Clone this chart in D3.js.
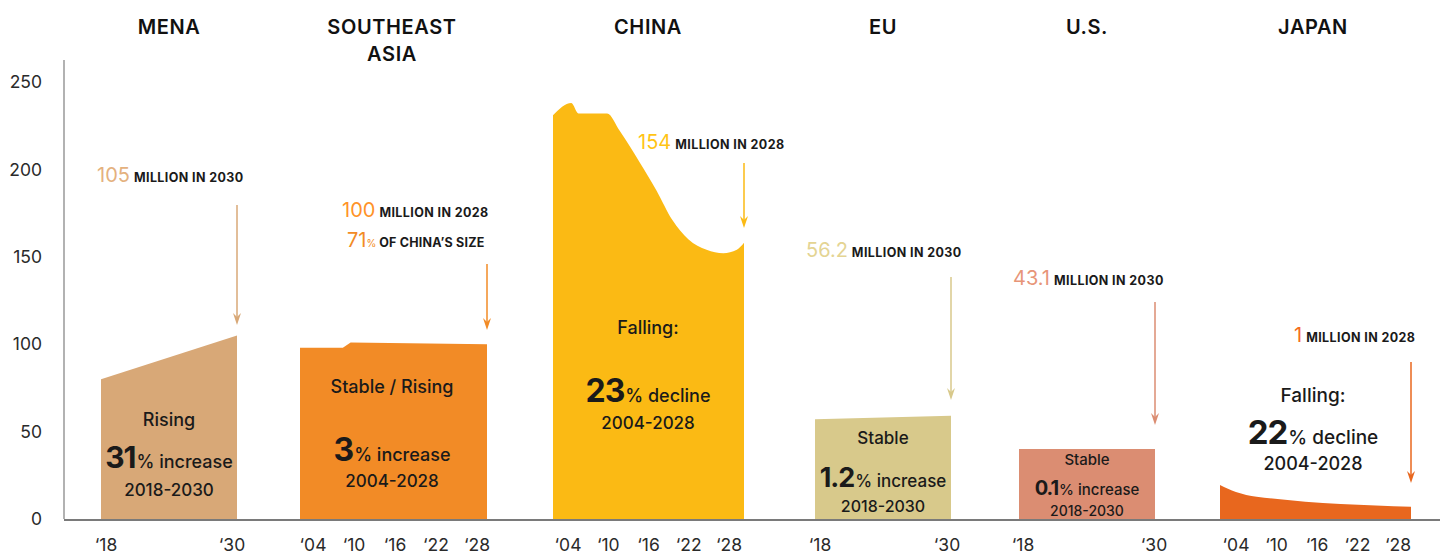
<!DOCTYPE html>
<html>
<head>
<meta charset="utf-8">
<script src="https://cdn.jsdelivr.net/npm/d3@7"></script>
<style>
  body { margin: 0; background: #fff; }
  text { font-family: Inter, "Open Sans", sans-serif; }
</style>
</head>
<body>
<div id="chart"></div>
<script>
// data (millions)
const regions = ['MENA', 'SOUTHEAST ASIA', 'CHINA', 'EU', 'U.S.', 'JAPAN'];

const menaYears = [2018, 2030];
const menaValues = [80, 105];
const seAsiaYears = [2004, 2009.5, 2010.5, 2028];
const seAsiaValues = [98, 98, 101, 100];
const chinaYears = [2004, 2006.3, 2007.2, 2010.8, 2012.4, 2014.9, 2017, 2019, 2021, 2023.3, 2025.4, 2027.1, 2028];
const chinaValues = [231, 238, 232, 232, 222, 204, 188, 171, 160, 154, 152, 154, 158];
const euYears = [2018, 2030];
const euValues = [57, 59];
const usYears = [2018, 2030];
const usValues = [40, 40];
const japanYears = [2004, 2006, 2008.6, 2028];
const japanValues = [19.5, 15.5, 12.8, 7];

const shortTicks = ['\u201818', '\u201830'];
const longTicks = ['\u201804', '\u201810', '\u201816', '\u201822', '\u201828'];
const shortTickYears = [2018, 2030];
const longTickYears = [2004, 2010, 2016, 2022, 2028];

const yTicks = [0, 50, 100, 150, 200, 250];

const calloutNumbers = ['105', '100', '154', '56.2', '43.1', '1'];
const calloutTexts = ['MILLION IN 2030', 'MILLION IN 2028', 'MILLION IN 2028', 'MILLION IN 2030', 'MILLION IN 2030', 'MILLION IN 2028'];

const trendWords = ['Rising', 'Stable / Rising', 'Falling:', 'Stable', 'Stable', 'Falling:'];
const changePct = ['31', '3', '23', '1.2', '0.1', '22'];
const changeWords = ['% increase', '% increase', '% decline', '% increase', '% increase', '% decline'];
const changePeriods = ['2018-2030', '2004-2028', '2004-2028', '2018-2030', '2018-2030', '2004-2028'];

const colors = ['#D8A877', '#F28B26', '#FBBA14', '#D8C98B', '#DB8D72', '#E8671E'];

const W = 1453, H = 556;
const svg = d3.select('#chart').append('svg')
  .attr('width', W).attr('height', H);

const y = d3.scaleLinear().domain([0, 250]).range([519, 82]);

// y axis
svg.append('line')
  .attr('x1', 64).attr('x2', 64).attr('y1', 60).attr('y2', y(0))
  .attr('stroke', '#999').attr('stroke-width', 1.5);
svg.selectAll('.ytick')
  .data(yTicks)
  .enter().append('text')
  .attr('class', 'ytick')
  .attr('x', 42).attr('y', d => y(d))
  .attr('dy', '0.35em')
  .attr('text-anchor', 'end')
  .attr('font-size', 17.5).attr('fill', '#2a2a2a')
  .text(d => d);

// panel layout
const panels = [
  { years: menaYears, values: menaValues, x0: 101, x1: 237, ticks: shortTicks, tickYears: shortTickYears, inset: [5, 5],
    arrow: [205, 325], callout: { x: 97, y: 182 }, center: 169, lines: [420, 462, 490], sizes: [18, 30, 18, 17] },
  { years: seAsiaYears, values: seAsiaValues, x0: 300, x1: 487, ticks: longTicks, tickYears: longTickYears, inset: [13, 10],
    arrow: [264, 330], callout: { x: 342, y: 217 }, center: 392, lines: [387, 455, 481], sizes: [18, 32, 18, 17] },
  { years: chinaYears, values: chinaValues, x0: 553, x1: 744, ticks: longTicks, tickYears: longTickYears, inset: [15, 15],
    arrow: [163, 228], callout: { x: 638, y: 149 }, center: 648, lines: [328, 396, 423], sizes: [18, 32, 18, 17] },
  { years: euYears, values: euValues, x0: 815, x1: 951, ticks: shortTicks, tickYears: shortTickYears, inset: [5, 4],
    arrow: [277, 400], callout: { x: 806, y: 257 }, center: 883, lines: [438, 481, 506], sizes: [17, 27, 17, 16] },
  { years: usYears, values: usValues, x0: 1019, x1: 1155, ticks: shortTicks, tickYears: shortTickYears, inset: [4, 1],
    arrow: [302, 425], callout: { x: 1013, y: 285 }, center: 1087, lines: [460, 489, 511], sizes: [15, 20, 15, 14] },
  { years: japanYears, values: japanValues, x0: 1220, x1: 1411, ticks: longTicks, tickYears: longTickYears, inset: [16, 13],
    arrow: [362, 483], callout: { x: 1294, y: 342 }, center: 1313, lines: [395, 438, 464], sizes: [19, 33, 19, 18] }
];

panels.forEach((p, i) => {
  const x = d3.scaleLinear().domain(d3.extent(p.years)).range([p.x0, p.x1]);
  const pts = p.years.map((yr, k) => ({ year: yr, value: p.values[k] }));

  const area = d3.area()
    .x(d => x(d.year))
    .y0(y(0))
    .y1(d => y(d.value))
    .curve(i === 2 || i === 5 ? d3.curveMonotoneX : d3.curveLinear);

  svg.append('path')
    .datum(pts)
    .attr('d', area)
    .attr('fill', colors[i]);

  // x tick labels
  const xt = d3.scaleLinear().domain(d3.extent(p.tickYears))
    .range([p.x0 + p.inset[0], p.x1 - p.inset[1]]);
  svg.selectAll('.xt' + i)
    .data(p.tickYears)
    .enter().append('text')
    .attr('x', d => xt(d)).attr('y', 551)
    .attr('text-anchor', 'middle')
    .attr('font-size', 17.5).attr('fill', '#2a2a2a')
    .text((d, k) => p.ticks[k]);

  // region title
  const title = svg.append('text')
    .attr('x', p.center).attr('y', 34)
    .attr('text-anchor', 'middle')
    .attr('font-size', 20).attr('font-weight', 600).attr('letter-spacing', 0.6)
    .attr('fill', '#111');
  if (regions[i] === 'SOUTHEAST ASIA') {
    title.append('tspan').attr('x', p.center).text('SOUTHEAST');
    title.append('tspan').attr('x', p.center).attr('dy', 27).text('ASIA');
  } else {
    title.text(regions[i]);
  }

  // arrow
  const ax = x(p.years[p.years.length - 1]);
  svg.append('line')
    .attr('x1', ax).attr('x2', ax)
    .attr('y1', p.arrow[0]).attr('y2', p.arrow[1] - 6)
    .attr('stroke', colors[i]).attr('stroke-width', 1.5);
  svg.append('path')
    .attr('d', `M${ax - 4},${p.arrow[1] - 12}L${ax},${p.arrow[1]}L${ax + 4},${p.arrow[1] - 12}L${ax},${p.arrow[1] - 8}Z`)
    .attr('fill', colors[i]);

  // callout
  const c = svg.append('text')
    .attr('x', p.callout.x).attr('y', p.callout.y);
  c.append('tspan')
    .attr('font-size', 20).attr('font-weight', 400)
    .attr('fill', d3.color(colors[i]).brighter(0.15))
    .text(calloutNumbers[i]);
  c.append('tspan')
    .attr('dx', 4)
    .attr('font-size', 12.5).attr('font-weight', 700).attr('letter-spacing', 0.4)
    .attr('fill', '#1a1a1a')
    .text(calloutTexts[i]);
  if (i === 1) {
    const c2 = svg.append('text')
      .attr('x', 347).attr('y', 247);
    c2.append('tspan')
      .attr('font-size', 20).attr('font-weight', 400)
      .attr('fill', colors[i]).text('71');
    c2.append('tspan')
      .attr('font-size', 10).attr('fill', colors[i]).text('%');
    c2.append('tspan')
      .attr('dx', 3)
      .attr('font-size', 12.5).attr('font-weight', 700).attr('letter-spacing', 0.2)
      .attr('fill', '#1a1a1a')
      .text('OF CHINA\u2019S SIZE');
  }

  // in-area text
  const s = p.sizes;
  svg.append('text')
    .attr('x', p.center).attr('y', p.lines[0]).attr('dy', '0.35em')
    .attr('text-anchor', 'middle')
    .attr('font-size', s[0]).attr('font-weight', 500).attr('fill', '#1a1a1a')
    .text(trendWords[i]);
  const t = svg.append('text')
    .attr('x', p.center).attr('y', p.lines[1]).attr('dy', '0.35em')
    .attr('text-anchor', 'middle').attr('fill', '#1a1a1a');
  t.append('tspan')
    .attr('font-size', s[1]).attr('font-weight', 700).attr('letter-spacing', -1)
    .text(changePct[i]);
  t.append('tspan')
    .attr('dx', 1)
    .attr('font-size', s[2]).attr('font-weight', 500)
    .text(changeWords[i]);
  svg.append('text')
    .attr('x', p.center).attr('y', p.lines[2]).attr('dy', '0.35em')
    .attr('text-anchor', 'middle')
    .attr('font-size', s[3]).attr('font-weight', 500).attr('fill', '#1a1a1a')
    .text(changePeriods[i]);
});

// baseline
svg.append('line')
  .attr('x1', 64).attr('x2', 1440).attr('y1', y(0) + 1).attr('y2', y(0) + 1)
  .attr('stroke', '#7a7a7a').attr('stroke-width', 2);
</script>
</body>
</html>
